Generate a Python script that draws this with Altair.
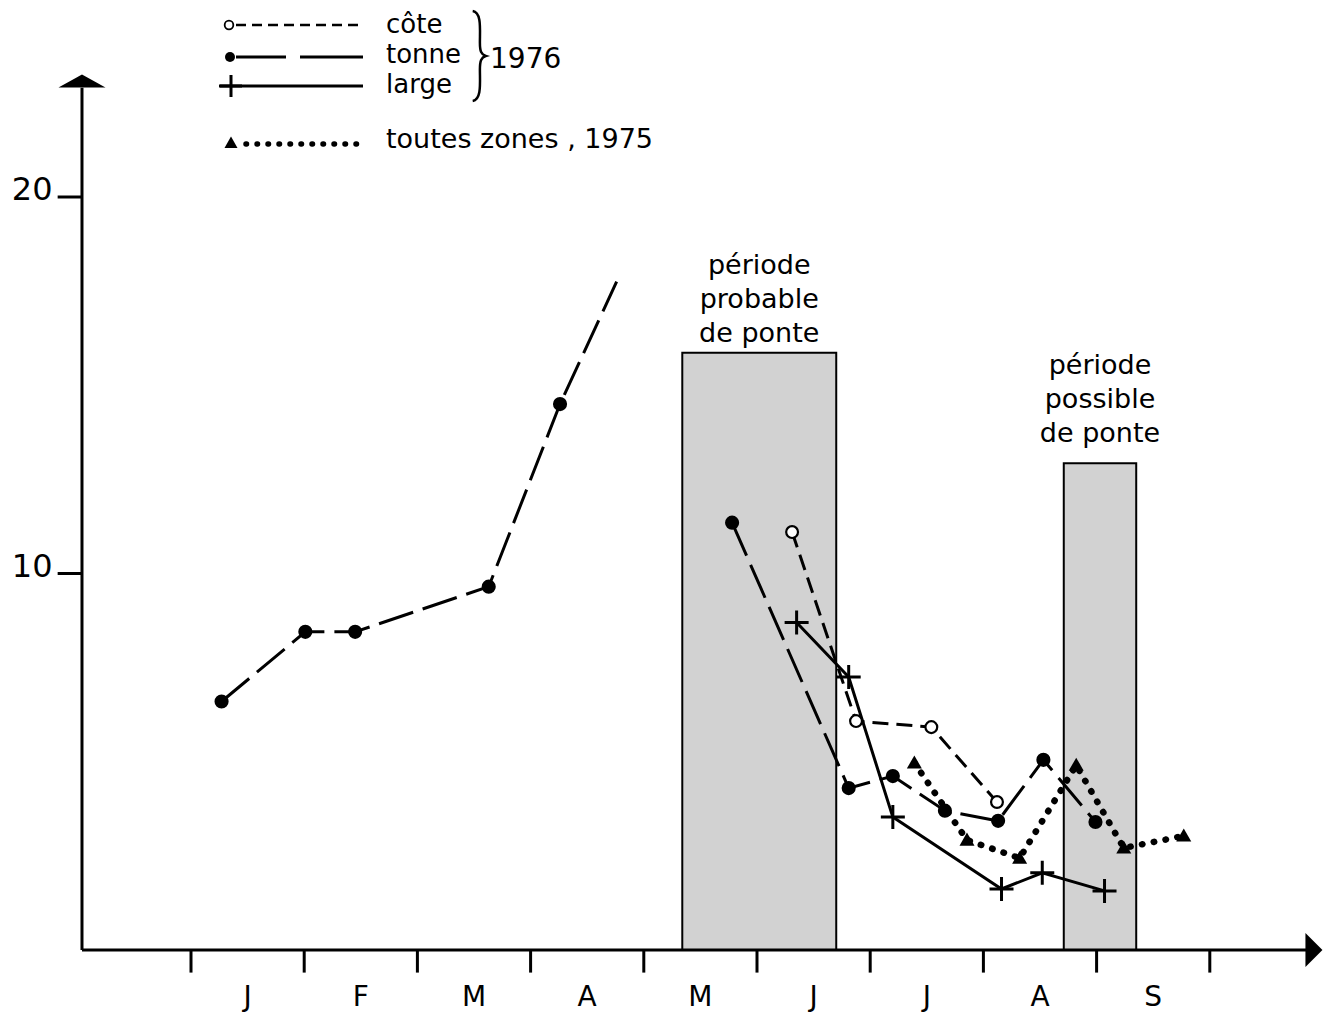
import altair as alt
import pandas as pd

# ---------------------------------------------------------------------------
# Data: x in months counted from 1 January (0 = 1 Jan, 1 = 1 Feb, ...)
# ---------------------------------------------------------------------------
months = ["J", "F", "M", "A", "M", "J", "J", "A", "S"]
month_bounds = [0, 1, 2, 3, 4, 5, 6, 7, 8, 9]
y_ticks = [10, 20]
y_tick_labels = ["10", "20"]

# tonne 1976 (winter-spring part, then the line rising off towards higher values)
tonne_x1 = [0.27, 1.01, 1.45, 2.63, 3.26]
tonne_y1 = [6.6, 8.45, 8.45, 9.65, 14.5]
tonne_tail_x = [3.76]
tonne_tail_y = [17.75]
# tonne 1976 (summer part)
tonne_x2 = [4.78, 5.81, 6.20, 6.66, 7.13, 7.53, 7.99]
tonne_y2 = [11.35, 4.3, 4.62, 3.7, 3.43, 5.05, 3.4]
# côte 1976
cote_x = [5.31, 5.875, 6.54, 7.12]
cote_y = [11.1, 6.08, 5.92, 3.93]
# large 1976
large_x = [5.35, 5.81, 6.20, 7.16, 7.52, 8.07]
large_y = [8.7, 7.25, 3.53, 1.62, 2.05, 1.57]
# toutes zones 1975
zones_x = [6.39, 6.855, 7.32, 7.82, 8.24, 8.77]
zones_y = [4.97, 2.92, 2.44, 4.91, 2.71, 3.03]

# spawning periods
period_start = [4.34, 7.71]
period_end = [5.70, 8.35]
period_top = [15.86, 12.93]
period_text = ["période\nprobable\nde ponte", "période\npossible\nde ponte"]

# ---------------------------------------------------------------------------
# Layout
# ---------------------------------------------------------------------------
W, H = 1333, 1015
X0_PX, PX_PER_MONTH = 191.0, 113.2     # pixel of 1 January, pixels per month
Y0_PX, PX_PER_UNIT = 950.0, 37.65      # pixel of y = 0, pixels per unit
FONT = "DejaVu Sans"

x_dom = [-X0_PX / PX_PER_MONTH, (W - X0_PX) / PX_PER_MONTH]
y_dom = [(Y0_PX - H) / PX_PER_UNIT, Y0_PX / PX_PER_UNIT]
xs = alt.Scale(domain=x_dom, nice=False, zero=False)
ys = alt.Scale(domain=y_dom, nice=False, zero=False)

X_ORIGIN = -0.963   # where the vertical axis stands
Y_AXIS_TOP = 22.9
X_AXIS_END = 9.87


def X(field="x"):
    return alt.X(f"{field}:Q", scale=xs, axis=None)


def Y(field="y"):
    return alt.Y(f"{field}:Q", scale=ys, axis=None)


def one():
    return pd.DataFrame({"k": [0]})


def series_line(xv, yv, **style):
    df = pd.DataFrame({"x": xv, "y": yv, "i": list(range(len(xv)))})
    return alt.Chart(df).mark_line(color="black", **style).encode(
        x=X(), y=Y(), order="i:Q")


def series_points(xv, yv, **style):
    df = pd.DataFrame({"x": xv, "y": yv})
    return alt.Chart(df).mark_point(opacity=1, **style).encode(x=X(), y=Y())


PLUS = "M-1,0L1,0M0,-1L0,1"
TRI = "M0,-1L1,0.75L-1,0.75Z"
ARROW_UP = "M-1,0.28L0,-0.28L1,0.28Z"
ARROW_RIGHT = "M-0.5,-1L0.5,0L-0.5,1Z"
BRACE = ("M-0.14,-1C0.06,-0.97 0.02,-0.6 0.02,-0.3C0.02,-0.1 0.05,-0.03 0.15,0"
         "C0.05,0.03 0.02,0.1 0.02,0.3C0.02,0.6 0.06,0.97 -0.14,1")

DASH_COTE = [16, 8]
DASH_TONNE = [36, 10]
DOTS = [0.5, 11.5]

layers = []

# spawning-period boxes
periods = pd.DataFrame({"x": period_start, "x2": period_end,
                        "top": period_top, "zero": [0, 0]})
layers.append(alt.Chart(periods).mark_rect(
    fill="#d2d2d2", stroke="black", strokeWidth=2).encode(
    x=X("x"), x2="x2:Q", y=Y("zero"), y2="top:Q"))

ann = pd.DataFrame({"x": [(a + b) / 2 for a, b in zip(period_start, period_end)],
                    "y": [17.95, 15.30], "t": period_text})
layers.append(alt.Chart(ann).mark_text(
    font=FONT, fontSize=27, lineBreak="\n", lineHeight=34, align="center",
    baseline="alphabetic", color="black").encode(x=X(), y=Y(), text="t:N"))

# axes
axis_pts = pd.DataFrame({"x": [X_ORIGIN], "x2": [X_AXIS_END], "y": [0.0], "y2": [Y_AXIS_TOP]})
layers.append(alt.Chart(axis_pts).mark_rule(color="black", strokeWidth=3).encode(
    x=X("x"), y=Y("y"), y2="y2:Q"))
layers.append(alt.Chart(axis_pts).mark_rule(color="black", strokeWidth=3).encode(
    x=X("x"), x2="x2:Q", y=Y("y")))
layers.append(alt.Chart(pd.DataFrame({"x": [X_ORIGIN], "y": [Y_AXIS_TOP + 0.18]})).mark_point(
    shape=ARROW_UP, size=47 ** 2, filled=True, color="black", opacity=1).encode(x=X(), y=Y()))
layers.append(alt.Chart(pd.DataFrame({"x": [X_AXIS_END + 0.05], "y": [0.0]})).mark_point(
    shape=ARROW_RIGHT, size=34 ** 2, filled=True, color="black", opacity=1).encode(x=X(), y=Y()))

xt = pd.DataFrame({"x": month_bounds, "y": [0.0] * len(month_bounds),
                   "y2": [-0.6] * len(month_bounds)})
layers.append(alt.Chart(xt).mark_rule(color="black", strokeWidth=3).encode(
    x=X(), y=Y(), y2="y2:Q"))
ml = pd.DataFrame({"x": [i + 0.5 for i in range(len(months))],
                   "y": [-1.5] * len(months), "t": months})
layers.append(alt.Chart(ml).mark_text(
    font=FONT, fontSize=28, align="center", baseline="alphabetic", color="black").encode(
    x=X(), y=Y(), text="t:N"))

yt = pd.DataFrame({"x": [X_ORIGIN - 0.215] * 2, "x2": [X_ORIGIN] * 2, "y": y_ticks,
                   "t": y_tick_labels, "xl": [X_ORIGIN - 0.26] * 2})
layers.append(alt.Chart(yt).mark_rule(color="black", strokeWidth=3).encode(
    x=X("x"), x2="x2:Q", y=Y()))
layers.append(alt.Chart(yt).mark_text(
    font=FONT, fontSize=32, align="right", baseline="alphabetic", dy=3, color="black").encode(
    x=X("xl"), y=Y(), text="t:N"))

# series lines
layers.append(series_line(tonne_x1 + tonne_tail_x, tonne_y1 + tonne_tail_y,
                          strokeWidth=3, strokeDash=DASH_TONNE))
layers.append(series_line(tonne_x2, tonne_y2, strokeWidth=3, strokeDash=DASH_TONNE))
layers.append(series_line(cote_x, cote_y, strokeWidth=3, strokeDash=DASH_COTE))
layers.append(series_line(large_x, large_y, strokeWidth=3))
layers.append(series_line(zones_x, zones_y, strokeWidth=6.5, strokeDash=DOTS,
                          strokeCap="round"))

# series markers
layers.append(series_points(tonne_x1 + tonne_x2, tonne_y1 + tonne_y2,
                            shape="circle", filled=True, color="black", size=200))
layers.append(series_points(cote_x, cote_y, shape="circle", filled=True,
                            fill="white", stroke="black", strokeWidth=2.2, size=140))
layers.append(series_points(large_x, large_y, shape=PLUS, filled=False,
                            stroke="black", strokeWidth=3, size=24 ** 2))
layers.append(series_points(zones_x, zones_y, shape=TRI, filled=True,
                            color="black", size=15 ** 2))


# legend
def rule_px(x1, x2, y, width=3, **kw):
    return alt.Chart(one()).mark_rule(color="black", strokeWidth=width, **kw).encode(
        x=alt.value(x1), x2=alt.value(x2), y=alt.value(y))


def sym_px(x, y, **kw):
    return alt.Chart(one()).mark_point(opacity=1, **kw).encode(
        x=alt.value(x), y=alt.value(y))


def text_px(t, x, y, size=25):
    return alt.Chart(one()).mark_text(
        text=t, font=FONT, fontSize=size, align="left", baseline="alphabetic",
        color="black").encode(x=alt.value(x), y=alt.value(y))


layers += [
    rule_px(236, 363, 25, width=2.5, strokeDash=[10, 6]),
    sym_px(229, 25, shape="circle", filled=True, fill="white", stroke="black",
           strokeWidth=1.8, size=75),
    rule_px(236, 286, 57),
    rule_px(300, 363, 57),
    sym_px(230, 57, shape="circle", filled=True, color="black", size=100),
    rule_px(219, 363, 86),
    sym_px(231, 86, shape=PLUS, filled=False, stroke="black", strokeWidth=3, size=22 ** 2),
    rule_px(246, 360, 144, width=5.5, strokeDash=[0.5, 10.5], strokeCap="round"),
    sym_px(231, 143, shape=TRI, filled=True, color="black", size=13 ** 2),
    sym_px(479, 56, shape=BRACE, filled=False, stroke="black", strokeWidth=2.5, size=90 ** 2),
    text_px("côte", 386, 33, size=26),
    text_px("tonne", 386, 63, size=26),
    text_px("large", 386, 93, size=26),
    text_px("1976", 490, 68, size=28),
    text_px("toutes zones , 1975", 386, 148, size=27),
]

chart = alt.layer(*layers).properties(
    width=W, height=H, autosize=alt.AutoSizeParams(type="none"), padding=0,
    background="white",
).configure_view(stroke=None)

chart.save("out.html", embed_options={"renderer": "svg", "actions": False})
